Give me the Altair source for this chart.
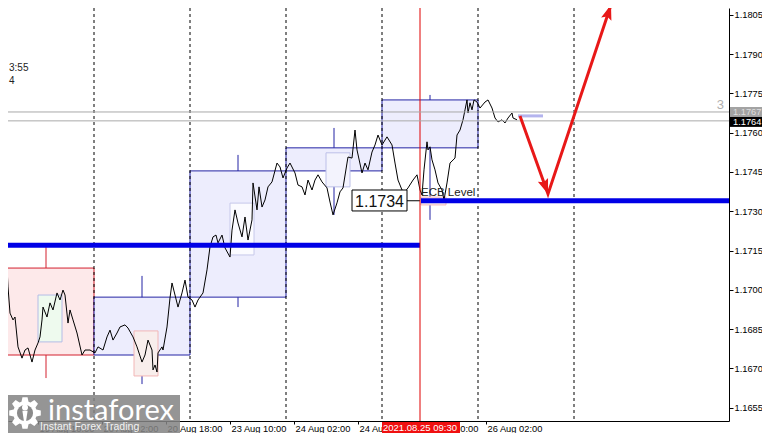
import math
import altair as alt
import pandas as pd

# time axis: trading hours counted from 19 Aug 2021 00:00 (weekend removed)
line_hours = [0.5, 1.25, 1.75, 2.25, 2.5, 3, 3.75, 4.25, 5, 6, 6.75, 7.5, 8.5, 9.25, 10, 10.5, 11, 11.25,
              12.25, 13, 13.75, 14.75, 15.5, 16.25, 16.75, 17.5, 18, 18.75, 19.75, 21, 21.75, 23, 24.25,
              25, 26.25, 27.25, 28, 28.75, 29.75, 30.5, 31.75, 32.5, 33.75, 34.75, 36, 36.75, 37.5, 38.5,
              38.75, 39.25, 39.75, 40, 41, 41.25, 42.25, 43, 43.5, 44.25, 45, 46, 46.75, 47.5, 48.5, 49.25,
              50, 51.25, 52.25, 53, 53.75, 54.5, 55, 56, 56.75, 58, 58.5, 59.25, 60, 61, 61.75, 62.5, 63.5,
              63.75, 64.75, 65.25, 66, 66.75, 67.5, 68.5, 69.75, 70.5, 71.25, 72.25, 73, 74.25, 75, 76,
              76.75, 77.5, 78.5, 79.25, 80, 81, 82.25, 83, 83.75, 84.75, 85.5, 86.25, 87.25, 87.5, 88.5,
              89.25, 89.75, 91, 91.75, 92.5, 93.5, 94.25, 95, 96, 97.25, 98.5, 99.25, 100, 101, 101.75,
              102.5, 103.75, 104.75, 105.5, 106, 106.5, 107.25, 107.5, 108, 108.5, 109.25, 110, 111, 111.5,
              112.25, 113, 114.25, 114.75, 115.5, 116.25, 116.75, 117.25, 117.5, 118, 118.5, 119, 119.75,
              120.5, 121.75, 122.5, 123.5, 124.25, 125, 126, 126.75, 127.5, 128.5, 128.75, 129.75]
line_price = [1.17152, 1.17148, 1.17133, 1.17087, 1.17011, 1.16911, 1.16885, 1.16896, 1.16782, 1.16739,
              1.16770, 1.16778, 1.16724, 1.16770, 1.16797, 1.16820, 1.16885, 1.16934, 1.16896, 1.16950,
              1.16923, 1.16988, 1.16961, 1.16999, 1.16980, 1.16873, 1.16923, 1.16885, 1.16835, 1.16751,
              1.16770, 1.16770, 1.16759, 1.16782, 1.16770, 1.16820, 1.16846, 1.16808, 1.16835, 1.16858,
              1.16866, 1.16854, 1.16820, 1.16782, 1.16724, 1.16751, 1.16808, 1.16770, 1.16694, 1.16713,
              1.16686, 1.16759, 1.16782, 1.16770, 1.16858, 1.16969, 1.17026, 1.16980, 1.16934, 1.16988,
              1.17037, 1.16972, 1.16961, 1.16934, 1.16961, 1.16988, 1.17076, 1.17164, 1.17202, 1.17209,
              1.17179, 1.17209, 1.17160, 1.17125, 1.17228, 1.17305, 1.17255, 1.17202, 1.17278, 1.17190,
              1.17267, 1.17408, 1.17305, 1.17393, 1.17316, 1.17343, 1.17393, 1.17412, 1.17484, 1.17469,
              1.17427, 1.17465, 1.17484, 1.17446, 1.17400, 1.17393, 1.17362, 1.17419, 1.17381, 1.17419,
              1.17439, 1.17412, 1.17389, 1.17335, 1.17286, 1.17332, 1.17374, 1.17389, 1.17484, 1.17507,
              1.17503, 1.17610, 1.17534, 1.17446, 1.17484, 1.17458, 1.17526, 1.17553, 1.17591, 1.17553,
              1.17584, 1.17553, 1.17484, 1.17419, 1.17381, 1.17374, 1.17389, 1.17419, 1.17439, 1.17381,
              1.17362, 1.17458, 1.17565, 1.17534, 1.17546, 1.17496, 1.17458, 1.17408, 1.17381, 1.17343,
              1.17408, 1.17484, 1.17503, 1.17591, 1.17610, 1.17649, 1.17687, 1.17725, 1.17675, 1.17714,
              1.17687, 1.17725, 1.17717, 1.17694, 1.17717, 1.17725, 1.17694, 1.17656, 1.17641, 1.17649,
              1.17637, 1.17656, 1.17675, 1.17656, 1.17649]

# daily boxes
day_start = [0, 24, 48, 72, 96]
day_end = [24, 48, 72, 96, 120]
day_mid = [12, 36, 60, 84, 108]
day_open = [1.17083, 1.16751, 1.16972, 1.17454, 1.17542]
day_close = [1.16751, 1.16972, 1.17454, 1.17542, 1.17725]
day_high = [1.17167, 1.17053, 1.17515, 1.17618, 1.17744]
day_low = [1.16663, 1.16640, 1.16934, 1.17286, 1.17267]
day_stroke = ["#d3202e", "#2323a4", "#2323a4", "#2323a4", "#2323a4"]
day_fill = ["#fde9ea", "#ededfd", "#ededfd", "#ededfd", "#ededfd"]

# small session boxes
sess_start = [10, 34, 58, 82, 105.75]
sess_end = [16, 40, 64, 88, 112]
sess_top = [1.16980, 1.16843, 1.17331, 1.17523, 1.17354]
sess_bottom = [1.16801, 1.16671, 1.17133, 1.17393, 1.17324]
sess_stroke = ["#b4bce6", "#f2b6b6", "#c6c8ea", "#bcbfe8", "#f3b9b9"]
sess_fill = ["#eefaee", "#f8eeec", "#fbfbff", "#f3f3fd", "#fdeeee"]

day_separators = [24, 48, 72, 96, 120, 144]

level_from = [0, 105.75]
level_to = [105.5, 182.75]
level_price = [1.1717, 1.1734]

event_hour = 105.5
ask_price = 1.17679
bid_price = 1.17645

arrow_hours = [130.5, 137.5, 153.25]
arrow_price = [1.17664, 1.17366, 1.18088]

pending_from, pending_to, pending_price = 130.0, 136.25, 1.17664

x_ticks = [10, 26, 42, 58, 74, 90, 106, 122]
x_labels = ["19 Aug 10:00", "20 Aug 02:00", "20 Aug 18:00", "23 Aug 10:00",
            "24 Aug 02:00", "24 Aug 18:00", "25 Aug 10:00", "26 Aug 02:00"]
y_ticks = [1.1655, 1.1670, 1.1685, 1.1700, 1.1715, 1.1730, 1.1745, 1.1760, 1.1775, 1.1790, 1.1805]

FONT = "Liberation Sans"

expr = "''"
for v, lab in reversed(list(zip(x_ticks, x_labels))):
    expr = f"datum.value == {v} ? '{lab}' : ({expr})"

x_scale = alt.Scale(domain=[2.5, 182.75], nice=False, zero=False)
y_scale = alt.Scale(domain=[1.16499, 1.18076], nice=False, zero=False)
x_axis = alt.Axis(values=x_ticks, labelExpr=expr, title=None, orient="bottom", grid=False,
                  tickSize=3, tickColor="black", domainColor="black", labelColor="black",
                  labelFont=FONT, labelFontSize=9.3, labelAlign="left", labelPadding=0,
                  labelOffset=1, labelOverlap=False, labelFlush=False)
y_axis = alt.Axis(values=y_ticks, format=".4f", title=None, orient="right", grid=False,
                  tickSize=4, tickColor="black", domainColor="black", labelColor="black",
                  labelFont=FONT, labelFontSize=9.3, labelPadding=1, labelOverlap=False,
                  labelFlush=False)


def X(f):
    return alt.X(f, type="quantitative", scale=x_scale, axis=x_axis)


def Y(f):
    return alt.Y(f, type="quantitative", scale=y_scale, axis=y_axis)


days = pd.DataFrame(dict(s=day_start, e=day_end, m=day_mid, o=day_open, c=day_close,
                         hi=day_high, lo=day_low, st=day_stroke, fi=day_fill))
sess = pd.DataFrame(dict(s=sess_start, e=sess_end, t=sess_top, b=sess_bottom,
                         st=sess_stroke, fi=sess_fill))
price = pd.DataFrame(dict(h=line_hours, p=line_price))
seps = pd.DataFrame(dict(h=day_separators))
levels = pd.DataFrame(dict(a=level_from, b=level_to, p=level_price))

layers = []
layers.append(alt.Chart(days).mark_rule(strokeWidth=1, clip=True).encode(
    x=X("m"), y=Y("hi"), y2="lo", color=alt.Color("st:N", scale=None)))
layers.append(alt.Chart(days).mark_rect(strokeWidth=1, clip=True).encode(
    x=X("s"), x2="e", y=Y("o"), y2="c",
    fill=alt.Fill("fi:N", scale=None), stroke=alt.Stroke("st:N", scale=None)))
layers.append(alt.Chart(sess).mark_rect(strokeWidth=1, clip=True).encode(
    x=X("s"), x2="e", y=Y("t"), y2="b",
    fill=alt.Fill("fi:N", scale=None), stroke=alt.Stroke("st:N", scale=None)))
layers.append(alt.Chart(seps).mark_rule(color="black", strokeWidth=1, strokeDash=[3, 3]).encode(
    x=X("h")))
layers.append(alt.Chart(price).mark_line(color="black", strokeWidth=1, clip=True).encode(
    x=X("h"), y=Y("p")))

# 1.1734 price label
lab_df = pd.DataFrame(dict(a=[88.5], b=[102.25], t=[1.17381], u=[1.17301], c=[95.375],
                           p=[1.1734], e=[105.5], txt=["1.1734"]))
layers.append(alt.Chart(lab_df).mark_rule(color="black", strokeWidth=1).encode(
    x=X("b"), x2="e", y=Y("p")))
layers.append(alt.Chart(lab_df).mark_rect(fill="white", stroke="black", strokeWidth=1).encode(
    x=X("a"), x2="b", y=Y("t"), y2="u"))
layers.append(alt.Chart(lab_df).mark_text(font=FONT, fontSize=16, color="#111", baseline="middle",
                                          dy=1).encode(x=X("c"), y=Y("p"), text="txt:N"))

layers.append(alt.Chart(levels).mark_rule(color="#0000e6", strokeWidth=5, clip=True).encode(
    x=X("a"), x2="b", y=Y("p")))
layers.append(alt.Chart(pd.DataFrame(dict(h=[event_hour]))).mark_rule(
    color="#e00000", strokeWidth=1).encode(x=X("h")))

ba = pd.DataFrame(dict(p=[ask_price, bid_price]))
layers.append(alt.Chart(ba).mark_rule(color="#a9a9a9", strokeWidth=1).encode(y=Y("p")))

pend = pd.DataFrame(dict(a=[pending_from], b=[pending_to], p=[pending_price]))
layers.append(alt.Chart(pend).mark_rule(color="#b4b4ee", strokeWidth=3).encode(
    x=X("a"), x2="b", y=Y("p")))

ecb = pd.DataFrame(dict(h=[105.75], p=[1.1734], t=["ECB Level"]))
layers.append(alt.Chart(ecb).mark_text(font=FONT, fontSize=11.5, color="#222", align="left",
                                       baseline="alphabetic", dy=-5).encode(
    x=X("h"), y=Y("p"), text="t:N"))

arr = pd.DataFrame(dict(h=arrow_hours, p=arrow_price, o=[0, 1, 2]))
layers.append(alt.Chart(arr).mark_line(color="#e81818", strokeWidth=3, clip=False).encode(
    x=X("h"), y=Y("p"), order="o:Q"))
head = "M0,0L0.36,1L0,0.82L-0.36,1Z"
layers.append(alt.Chart(arr.iloc[[1]]).mark_point(shape=head, size=900, filled=True, opacity=1,
                                                   color="#e81818", angle=160.3).encode(
    x=X("h"), y=Y("p")))
layers.append(alt.Chart(arr.iloc[[2]]).mark_point(shape=head, size=900, filled=True, opacity=1,
                                                   color="#e81818", angle=18.4).encode(
    x=X("h"), y=Y("p")))

# right-axis price tags
tags = pd.DataFrame(dict(t=[1.17698, 1.17660], b=[1.17660, 1.17622], p=[1.17679, 1.17641],
                         fi=["#a3a3a3", "#000000"], tc=["#dedede", "#ffffff"],
                         txt=["1.1767", "1.1764"]))
layers.append(alt.Chart(tags).mark_rect(clip=False).encode(
    x=alt.value(722), x2=alt.value(754), y=Y("t"), y2="b", fill=alt.Fill("fi:N", scale=None)))
layers.append(alt.Chart(tags).mark_text(font=FONT, fontSize=9.3, align="left", baseline="middle",
                                        clip=False).encode(
    x=alt.value(725), y=Y("p"), text="txt:N", color=alt.Color("tc:N", scale=None)))

misc = pd.DataFrame(dict(h=[180.6], p=[1.17706], t=["3"]))
layers.append(alt.Chart(misc).mark_text(font=FONT, fontSize=13, color="#b0b0b0",
                                        baseline="middle").encode(x=X("h"), y=Y("p"), text="t:N"))
corner = pd.DataFrame(dict(t=["3:55", "4"], yy=[60, 73]))
layers.append(alt.Chart(corner).mark_text(
    font=FONT, fontSize=10, color="#222", align="left", baseline="middle").encode(
    x=alt.value(1), y=alt.Y("yy:Q", scale=None), text="t:N"))

# time tag on x axis
tt = pd.DataFrame(dict(a=[96], b=[115.5], c=[105.5], t=["2021.08.25 09:30"]))
layers.append(alt.Chart(tt).mark_rect(color="#f01010", clip=False).encode(
    x=X("a"), x2="b", y=alt.value(414), y2=alt.value(425)))
layers.append(alt.Chart(tt).mark_text(font=FONT, fontSize=9.5, color="white", baseline="middle",
                                      clip=False).encode(
    x=X("c"), y=alt.value(419.5), text="t:N"))

# watermark
one = pd.DataFrame(dict(k=[0]))
layers.append(alt.Chart(one).mark_rect(color="#848484", opacity=0.86).encode(
    x=alt.value(0), x2=alt.value(172), y=alt.value(387), y2=alt.value(425)))


def gear_path(n=8, r_out=1.0, r_in=0.74):
    pts = []
    for k in range(n):
        a = 2 * math.pi * k / n
        for da, r in [(-0.30, r_in), (-0.16, r_out), (0.16, r_out), (0.30, r_in)]:
            pts.append((r * math.sin(a + da), -r * math.cos(a + da)))
    return "M" + "L".join(f"{x:.3f},{y:.3f}" for x, y in pts) + "Z"


layers.append(alt.Chart(one).mark_point(shape=gear_path(), size=1024, filled=True, opacity=1,
                                        color="white").encode(x=alt.value(17), y=alt.value(405)))
layers.append(alt.Chart(one).mark_point(shape="circle", size=260, filled=True, opacity=1,
                                        color="#8a8a8a").encode(x=alt.value(17), y=alt.value(405)))
layers.append(alt.Chart(one).mark_point(shape="circle", size=36, filled=True, opacity=1,
                                        color="white").encode(x=alt.value(17), y=alt.value(399.5)))
layers.append(alt.Chart(one).mark_point(shape="M-0.5,-1L0.5,-1L0.2,1L-0.2,1Z", size=110, filled=True,
                                        opacity=1, color="white").encode(
    x=alt.value(17), y=alt.value(408)))
layers.append(alt.Chart(pd.DataFrame(dict(t=["instaforex"]))).mark_text(
    font="Lato", fontSize=29, color="white", align="left", baseline="alphabetic").encode(
    x=alt.value(40), y=alt.value(412), text="t:N"))
layers.append(alt.Chart(pd.DataFrame(dict(t=["Instant Forex Trading"]))).mark_text(
    font=FONT, fontSize=10.5, color="#f2f2f2", align="left", baseline="middle").encode(
    x=alt.value(32), y=alt.value(419), text="t:N"))

chart = alt.layer(*layers).properties(
    width=721, height=413, background="white",
    autosize=alt.AutoSizeParams(type="none"),
    padding={"left": 0, "top": 0, "right": 33, "bottom": 12})
chart = chart.configure_view(stroke=None)
chart.save("out.html", embed_options={"renderer": "svg", "actions": False})
